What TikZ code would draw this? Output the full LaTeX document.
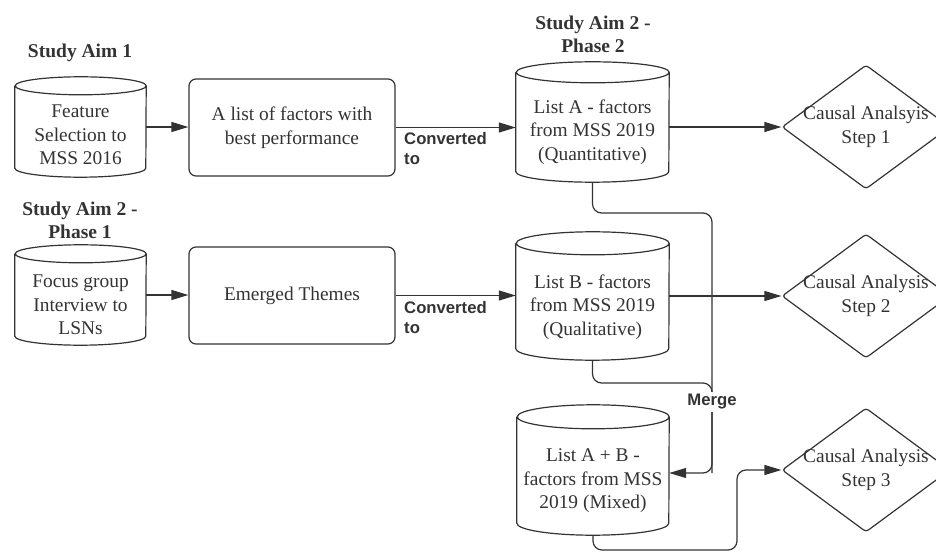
\documentclass[tikz,border=0pt]{standalone}
\usepackage{fontspec}
\setmainfont{Liberation Serif}
\setsansfont{Liberation Sans}
\usetikzlibrary{shapes.geometric,arrows.meta}
\definecolor{ink}{HTML}{333333}
\tikzset{
  line/.style={draw=ink, line width=1.2pt},
  flow/.style={line, rounded corners=9pt, -{Triangle[length=17pt,width=10pt]}},
  body/.style={font=\fontsize{19.4}{23.5}\selectfont, text=ink, align=center, inner sep=0pt},
  head/.style={font=\fontsize{19.5}{23}\selectfont\bfseries, text=ink, align=center, inner sep=0pt},
  conv/.style={font=\fontsize{16.7}{20}\sffamily\bfseries, text=ink, align=left, inner sep=0pt},
  slot/.style={inner sep=0pt, minimum width=#1},
  roundbox/.style={line, rounded corners=7pt, minimum width=206pt, minimum height=97pt,
                   inner sep=0pt, font=\fontsize{19.4}{24.5}\selectfont, text=ink, align=center},
  choice/.style={line, diamond, rounded corners=3pt, minimum width=168pt, minimum height=124pt, inner sep=0pt},
}
% cylinder outline around a node: #1 node name, #2 end radius (short), #3 half width
\newcommand\cylout[3]{%
  \draw[line] ([yshift=-#2pt]#1.north west) -- ([yshift=#2pt]#1.south west)
    arc[start angle=180, end angle=360, x radius=#3pt, y radius=#2pt]
    -- ([yshift=-#2pt]#1.north east)
    arc[start angle=0, end angle=180, x radius=#3pt, y radius=#2pt]
    arc[start angle=180, end angle=360, x radius=#3pt, y radius=#2pt];}
\begin{document}
\begin{tikzpicture}[x=1pt, y=1pt]
\useasboundingbox (0,0) rectangle (936,552);
\clip (0,0) rectangle (936,552);

% headings
\node[head] (h1) at (80,499) {Study Aim 1};
\node[head] (h2) at (80,332) {Study Aim 2 -\\Phase 1};
\node[head] (h3) at (593,517.5) {Study Aim 2 -\\Phase 2};

% data stores
\node[slot=131pt, minimum height=100pt] (fs) at (80.5,425) {};
\cylout{fs}{9}{65.5}
\node[body] (fst) at ([yshift=-8pt]fs.center) {Feature\\Selection to\\MSS 2016};

\node[slot=131pt, minimum height=100pt] (fg) at (80.5,257) {};
\cylout{fg}{9}{65.5}
\node[body] (fgt) at ([yshift=-10pt]fg.center) {Focus group\\Interview to\\LSNs};

\node[slot=153pt, minimum height=120pt] (ca) at (592.5,430) {};
\cylout{ca}{10.5}{76.5}
\node[body] (cat) at ([yshift=-10pt]ca.center) {List A - factors\\from MSS 2019\\(Quantitative)};

\node[slot=153pt, minimum height=128pt] (cb) at (592.5,256) {};
\cylout{cb}{11.5}{76.5}
\node[body] (cbt) at ([yshift=-11pt]cb.center) {List B - factors\\from MSS 2019\\(Qualitative)};

\node[slot=152pt, minimum height=130pt] (cab) at (593,82) {};
\cylout{cab}{12}{76}
\node[body] (cabt) at ([yshift=-11pt]cab.center) {List A + B -\\factors from MSS\\2019 (Mixed)};

% process boxes
\node[roundbox] (lf) at (292,424.5) {A list of factors with\\best performance};
\node[roundbox] (et) at (292,256.5) {Emerged Themes};

% decisions
\node[choice] (d1) at (866,425) {};
\node[body] at (d1.center) {Causal Analsyis\\Step 1};
\node[choice] (d2) at (866,256) {};
\node[body] at (d2.center) {Causal Analysis\\Step 2};
\node[choice] (d3) at (866,82) {};
\node[body] at (d3.center) {Causal Analysis\\Step 3};

% straight flows
\draw[flow] (fs.east) -- (fs.east -| lf.west);
\draw[flow] (fg.east) -- (fg.east -| et.west);
\draw[flow] (lf.east) -- (lf.east -| ca.west);
\draw[flow] (et.east) -- (et.east -| cb.west);
\draw[flow] (ca.east |- d1.west) -- (d1.west);
\draw[flow] (cb.east |- d2.west) -- (d2.west);

\node[conv, anchor=west] (cv1) at (404,403) {Converted\\to};
\node[conv, anchor=west] (cv2) at (404,234) {Converted\\to};

% merge route
\coordinate (busA) at (712,339);
\coordinate (busB) at (712,169);
\coordinate (busEnd) at (712,79);
\draw[line, rounded corners=9pt] (cb.south) |- (busB) -- (busEnd);
\draw[flow] (ca.south) |- (busA) -- (busEnd) -- (busEnd -| cab.east);
\node[conv, fill=white, inner sep=2pt] (mg) at (712,150) {Merge};

% route to step 3
\coordinate (low) at (737,2);
\draw[flow] (cab.south) |- (low) |- (d3.west);
\end{tikzpicture}
\end{document}
